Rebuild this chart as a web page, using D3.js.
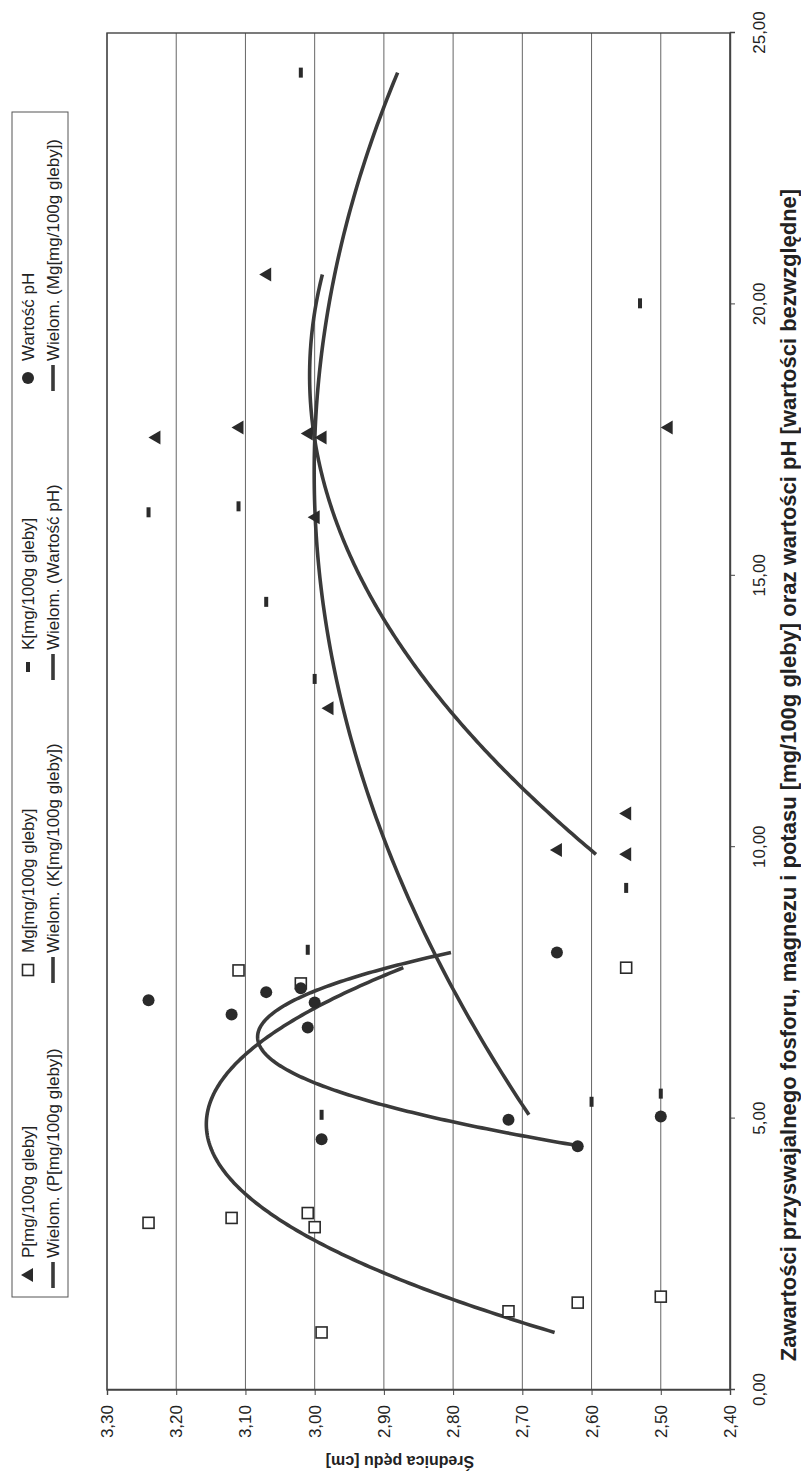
<!DOCTYPE html>
<html>
<head>
<meta charset="utf-8">
<script src="https://cdn.jsdelivr.net/npm/d3@7"></script>
<style>
  html, body { margin: 0; padding: 0; background: #fff; }
  svg { display: block; }
  text { font-family: Arial, "Liberation Sans", sans-serif; fill: #222; }
</style>
</head>
<body>
<svg id="chart" width="801" height="1471"></svg>
<script>
// Soil content (x) vs. shoot diameter (y), one array per series
const pX  = [17.55, 17.73, 20.55, 17.62, 17.55, 16.08, 12.56, 9.95, 10.62, 9.87, 17.73];
const pY  = [3.23, 3.11, 3.07, 3.01, 2.99, 3.00, 2.98, 2.65, 2.55, 2.55, 2.49];
const mgX = [3.08, 3.17, 3.26, 3.00, 1.06, 1.45, 1.61, 1.72, 7.73, 7.49, 7.78];
const mgY = [3.24, 3.12, 3.01, 3.00, 2.99, 2.72, 2.62, 2.50, 3.11, 3.02, 2.55];
const kX  = [24.27, 16.17, 16.28, 14.52, 13.10, 8.11, 5.07, 5.31, 9.25, 5.46, 20.02];
const kY  = [3.02, 3.24, 3.11, 3.07, 3.00, 3.01, 2.99, 2.60, 2.55, 2.50, 2.53];
const phX = [7.18, 6.92, 7.33, 7.40, 6.68, 7.14, 4.62, 4.98, 4.49, 5.04, 8.06];
const phY = [3.24, 3.12, 3.07, 3.02, 3.01, 3.00, 2.99, 2.72, 2.62, 2.50, 2.65];

const xTicks = [0, 5, 10, 15, 20, 25];
const yTicks = [3.30, 3.20, 3.10, 3.00, 2.90, 2.80, 2.70, 2.60, 2.50, 2.40];

const xTitle = "Zawartości przyswajalnego fosforu, magnezu i potasu [mg/100g gleby] oraz wartości pH [wartości bezwzględne]";
const yTitle = "Średnica pędu [cm]";

const legendRow1 = ["P[mg/100g gleby]", "Mg[mg/100g gleby]", "K[mg/100g gleby]", "Wartość pH"];
const legendRow2 = ["Wielom. (P[mg/100g gleby])", "Wielom. (K[mg/100g gleby])", "Wielom. (Wartość pH)", "Wielom. (Mg[mg/100g gleby])"];

// Chart is laid out in its own frame (W x H) and turned a quarter turn on the page
const W = 1471, H = 801;
const plot = { left: 81, right: 1438, top: 107, bottom: 730 };
const ink = "#2a2a2a";

const svg = d3.select("#chart");
const g = svg.append("g").attr("transform", `translate(0,${W}) rotate(-90)`);

const x = d3.scaleLinear().domain([0, 25]).range([plot.left, plot.right]);
const y = d3.scaleLinear().domain([2.40, 3.30]).range([plot.bottom, plot.top]);

const fmt = v => d3.format(".2f")(v).replace(".", ",");

// horizontal gridlines
g.append("g").selectAll("line").data(yTicks).join("line")
  .attr("x1", plot.left).attr("x2", plot.right)
  .attr("y1", d => y(d)).attr("y2", d => y(d))
  .attr("stroke", "#555").attr("stroke-width", 0.9);

// plot frame
g.append("rect")
  .attr("x", plot.left).attr("y", plot.top)
  .attr("width", plot.right - plot.left).attr("height", plot.bottom - plot.top)
  .attr("fill", "none").attr("stroke", "#444").attr("stroke-width", 1.4);

// axes
const xAxis = g.append("g").attr("transform", `translate(0,${plot.bottom})`)
  .call(d3.axisBottom(x).tickValues(xTicks).tickFormat(fmt).tickSize(5).tickPadding(18));
const yAxis = g.append("g").attr("transform", `translate(${plot.left},0)`)
  .call(d3.axisLeft(y).tickValues(yTicks).tickFormat(fmt).tickSize(5).tickPadding(10));
[xAxis, yAxis].forEach(a => {
  a.select(".domain").attr("stroke", "#444").attr("stroke-width", 1.4);
  a.selectAll(".tick line").attr("stroke", "#444");
  a.selectAll(".tick text").attr("font-size", 17).attr("fill", "#222")
    .style("font-family", "Arial, 'Liberation Sans', sans-serif");
});

// axis titles
g.append("text")
  .attr("x", 696).attr("y", 796)
  .attr("text-anchor", "middle").attr("font-size", 22).attr("font-weight", "bold")
  .text(xTitle);
g.append("text")
  .attr("transform", `translate(15,400) rotate(-90)`)
  .attr("text-anchor", "middle").attr("font-size", 16).attr("font-weight", "bold")
  .text(yTitle);

// least-squares quadratic, as used by the polynomial trendlines
function quadFit(xs, ys) {
  const n = xs.length;
  let s = [0, 0, 0, 0, 0], t = [0, 0, 0];
  for (let i = 0; i < n; i++) {
    let p = 1;
    for (let k = 0; k <= 4; k++) { s[k] += p; if (k <= 2) t[k] += p * ys[i]; p *= xs[i]; }
  }
  const A = [[s[0], s[1], s[2], t[0]], [s[1], s[2], s[3], t[1]], [s[2], s[3], s[4], t[2]]];
  for (let c = 0; c < 3; c++) {
    let piv = c;
    for (let r = c + 1; r < 3; r++) if (Math.abs(A[r][c]) > Math.abs(A[piv][c])) piv = r;
    [A[c], A[piv]] = [A[piv], A[c]];
    for (let r = 0; r < 3; r++) if (r !== c) {
      const f = A[r][c] / A[c][c];
      for (let k = c; k < 4; k++) A[r][k] -= f * A[c][k];
    }
  }
  const b = A.map((r, i) => r[3] / r[i]);
  return v => b[0] + b[1] * v + b[2] * v * v;
}

const series = [
  { xs: pX,  ys: pY,  shape: "tri" },
  { xs: mgX, ys: mgY, shape: "sq" },
  { xs: kX,  ys: kY,  shape: "dash" },
  { xs: phX, ys: phY, shape: "dot" }
];

// trendlines
const line = d3.line().x(d => x(d[0])).y(d => y(d[1]));
series.forEach(s => {
  const f = quadFit(s.xs, s.ys);
  const [lo, hi] = d3.extent(s.xs);
  const pts = d3.range(0, 201).map(i => { const v = lo + (hi - lo) * i / 200; return [v, f(v)]; });
  g.append("path").attr("d", line(pts))
    .attr("fill", "none").attr("stroke", "#3a3a3a").attr("stroke-width", 3.6)
    .attr("stroke-linejoin", "round");
});

// marker drawing
function marker(sel, shape) {
  if (shape === "tri") {
    sel.append("path").attr("d", "M0,-7 L7,5 L-7,5 Z").attr("fill", ink);
  } else if (shape === "sq") {
    sel.append("rect").attr("x", -5.5).attr("y", -5.5).attr("width", 11).attr("height", 11)
      .attr("fill", "#fff").attr("stroke", ink).attr("stroke-width", 1.6);
  } else if (shape === "dash") {
    sel.append("rect").attr("x", -5).attr("y", -2).attr("width", 10).attr("height", 4).attr("fill", ink);
  } else {
    sel.append("circle").attr("r", 6).attr("fill", ink);
  }
}
series.forEach(s => {
  g.append("g").selectAll("g").data(s.xs.map((v, i) => [v, s.ys[i]])).join("g")
    .attr("transform", d => `translate(${x(d[0])},${y(d[1])})`)
    .each(function () { marker(d3.select(this), s.shape); });
});

// legend: two rows, four columns
const lg = g.append("g");
lg.append("rect").attr("x", 174).attr("y", 12).attr("width", 1185).attr("height", 56)
  .attr("fill", "#fff").attr("stroke", "#555").attr("stroke-width", 1);
const colX = [213, 518, 821, 1110];
const shapes = ["tri", "sq", "dash", "dot"];
legendRow1.forEach((t, i) => {
  const it = lg.append("g").attr("transform", `translate(${colX[i]},28)`);
  marker(it.append("g").attr("transform", "translate(-17,0)"), shapes[i]);
  it.append("text").attr("x", 0).attr("y", 6).attr("font-size", 17).text(t);
});
legendRow2.forEach((t, i) => {
  const it = lg.append("g").attr("transform", `translate(${colX[i]},53)`);
  it.append("line").attr("x1", -30).attr("x2", -4).attr("stroke", "#3a3a3a").attr("stroke-width", 3.6);
  it.append("text").attr("x", 0).attr("y", 6).attr("font-size", 17).text(t);
});
</script>
</body>
</html>
